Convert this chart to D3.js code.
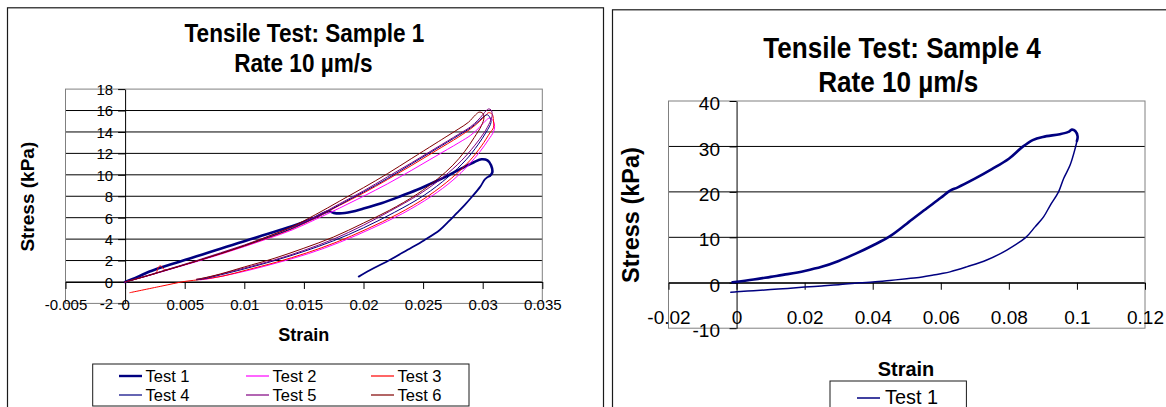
<!DOCTYPE html>
<html>
<head>
<meta charset="utf-8">
<script src="https://cdn.jsdelivr.net/npm/d3@7"></script>
<style>
  body { margin: 0; background: #fff; }
  svg { display: block; }
  text { font-family: "Liberation Sans", Arial, Helvetica, sans-serif; fill: #000; }
</style>
</head>
<body>
<svg id="chart" width="1166" height="407"></svg>
<script>
// ---------- Sample 1: six tests, [strain, stress kPa] ----------
const s1Test1Load = [[0,0],[0.001,0.45],[0.002,0.95],[0.003,1.35],[0.004,1.7],[0.005,2.05],[0.006,2.4],[0.007,2.75],[0.008,3.1],[0.009,3.45],[0.010,3.8],[0.011,4.15],[0.012,4.5],[0.013,4.85],[0.014,5.2],[0.015,5.6],[0.016,6.05],[0.0167,6.45],[0.0171,6.6],[0.0175,6.45],[0.018,6.4],[0.019,6.55],[0.020,6.85],[0.0215,7.35],[0.023,7.95],[0.0245,8.6],[0.026,9.35],[0.0272,10.0],[0.0284,10.7],[0.0293,11.2],[0.0299,11.45],[0.0304,11.35],[0.0307,10.9],[0.0308,10.2],[0.0306,9.9]];
const s1Test1Unload = [[0.0306,9.9],[0.0302,9.6],[0.0298,8.9],[0.0291,7.95],[0.0285,7.2],[0.0278,6.4],[0.0271,5.6],[0.0264,4.85],[0.0251,3.9],[0.0237,3.0],[0.0222,2.05],[0.0208,1.25],[0.0196,0.5]];
const s1Test2 = [[0,0],[0.002,0.6],[0.004,1.25],[0.006,1.9],[0.008,2.58],[0.01,3.3],[0.012,4.05],[0.014,4.85],[0.016,5.85],[0.018,6.9],[0.02,8.0],[0.022,9.15],[0.024,10.4],[0.026,11.7],[0.028,13.0],[0.029,13.7],[0.0297,14.4],[0.0302,15.0],[0.0306,15.3],[0.0309,15.0],[0.031,14.5],[0.0309,14.0],[0.0305,13.3],[0.0298,12.2],[0.0288,10.9],[0.0275,9.5],[0.0257,8.0],[0.0233,6.4],[0.0207,5.0],[0.018,3.7],[0.0154,2.65],[0.0128,1.8],[0.0104,1.1],[0.0084,0.6],[0.007,0.3],[0.0063,0.2]];
const s1Test3 = [[0,0],[0.001,0.3],[0.002,0.62],[0.0026,0.85],[0.0028,1.4],[0.003,1.5],[0.0033,1.15],[0.004,1.3],[0.006,1.95],[0.008,2.62],[0.01,3.35],[0.012,4.12],[0.014,4.95],[0.016,6.0],[0.018,7.15],[0.02,8.3],[0.022,9.55],[0.024,10.85],[0.026,12.2],[0.028,13.55],[0.029,14.3],[0.0297,14.95],[0.0302,15.5],[0.0305,15.8],[0.0308,15.65],[0.0309,15.1],[0.0309,14.4],[0.0306,13.9],[0.0299,12.7],[0.0289,11.3],[0.0274,9.7],[0.0254,8.0],[0.0229,6.35],[0.0203,4.95],[0.0177,3.7],[0.0152,2.7],[0.0127,1.85],[0.0102,1.12],[0.0082,0.55],[0.0065,0.25],[0.005,0.05],[0.003,-0.4],[0.0004,-1.0]];
const s1Test4 = [[0,0],[0.002,0.62],[0.004,1.28],[0.006,1.95],[0.008,2.65],[0.01,3.38],[0.012,4.17],[0.014,5.0],[0.016,6.05],[0.018,7.2],[0.02,8.4],[0.022,9.65],[0.024,11.0],[0.026,12.35],[0.028,13.7],[0.029,14.4],[0.0296,14.95],[0.0301,15.45],[0.0304,15.6],[0.0306,15.35],[0.0307,14.9],[0.0303,14.0],[0.0296,12.8],[0.0286,11.4],[0.0271,9.8],[0.0251,8.1],[0.0226,6.5],[0.02,5.05],[0.0175,3.85],[0.015,2.85],[0.0125,1.98],[0.01,1.22],[0.008,0.66],[0.0067,0.32],[0.006,0.2]];
const s1Test5 = [[0,0],[0.002,0.65],[0.004,1.32],[0.006,2.0],[0.008,2.72],[0.01,3.45],[0.012,4.25],[0.014,5.1],[0.016,6.1],[0.018,7.3],[0.02,8.5],[0.022,9.8],[0.024,11.1],[0.026,12.45],[0.028,13.8],[0.029,14.5],[0.0296,15.1],[0.03,15.6],[0.0303,16.0],[0.0305,16.15],[0.0307,16.05],[0.0308,15.6],[0.0306,14.9],[0.0301,13.9],[0.0293,12.7],[0.0282,11.3],[0.0267,9.8],[0.0247,8.2],[0.0222,6.6],[0.02,5.3],[0.0175,4.0],[0.015,2.95],[0.0125,2.05],[0.01,1.3],[0.008,0.72],[0.0068,0.4],[0.006,0.25]];
const s1Test6 = [[0,0],[0.002,0.62],[0.004,1.28],[0.006,1.95],[0.008,2.65],[0.01,3.4],[0.012,4.25],[0.014,5.15],[0.016,6.3],[0.018,7.55],[0.02,8.8],[0.022,10.1],[0.024,11.5],[0.026,12.9],[0.027,13.6],[0.028,14.3],[0.0288,14.9],[0.0294,15.6],[0.0297,15.85],[0.03,15.75],[0.0301,15.3],[0.0299,14.6],[0.0293,13.5],[0.0285,12.2],[0.0275,10.9],[0.0262,9.6],[0.0245,8.2],[0.0222,6.7],[0.02,5.5],[0.0175,4.2],[0.015,3.15],[0.0125,2.2],[0.01,1.4],[0.008,0.75],[0.0065,0.35],[0.006,0.25]];

// ---------- Sample 4: one test ----------
const s4Test1Load = [[-0.0012,0.1],[0.005,0.7],[0.01,1.3],[0.015,1.9],[0.02,2.6],[0.025,3.5],[0.03,4.8],[0.035,6.4],[0.04,8.2],[0.045,10.2],[0.05,13.0],[0.055,15.9],[0.06,18.7],[0.062,19.9],[0.063,20.4],[0.065,21.0],[0.07,22.9],[0.075,25.0],[0.08,27.3],[0.084,29.9],[0.087,31.4],[0.09,32.1],[0.095,32.7],[0.0975,33.2],[0.0985,33.7],[0.0995,33.4],[0.1002,32.2],[0.1,31.2]];
const s4Test1Unload = [[0.1,31.2],[0.0995,29.6],[0.098,25.9],[0.0961,22.96],[0.0946,20.0],[0.0922,17.1],[0.0902,14.5],[0.0877,12.3],[0.085,10.0],[0.0794,7.2],[0.0735,5.0],[0.0676,3.5],[0.0627,2.4],[0.06,2.0],[0.0578,1.7],[0.0529,1.1],[0.05,0.9],[0.045,0.5],[0.04,0.15],[0.036,0],[0.03,-0.45],[0.025,-0.7],[0.02,-0.95],[0.015,-1.25],[0.01,-1.5],[0.005,-1.75],[0,-2.0],[-0.0017,-2.1]];

// ---------- axis ticks and legend names ----------
const s1XTicks = [-0.005, 0, 0.005, 0.01, 0.015, 0.02, 0.025, 0.03, 0.035];
const s1YTicks = [-2, 0, 2, 4, 6, 8, 10, 12, 14, 16, 18];
const s4XTicks = [-0.02, 0, 0.02, 0.04, 0.06, 0.08, 0.1, 0.12];
const s4YTicks = [-10, 0, 10, 20, 30, 40];
const s1Names = ["Test 1", "Test 2", "Test 3", "Test 4", "Test 5", "Test 6"];
const s1Colors = ["#000080", "#FF00FF", "#FF0000", "#000080", "#800080", "#800000"];
const s4Names = ["Test 1"];

const svg = d3.select("#chart");
svg.append("rect").attr("width", 1166).attr("height", 407).attr("fill", "#fff");

function label(g, x, y, s, o) {
  let tr = `translate(${x},${y})`;
  if (o.rot) tr += ` rotate(${o.rot})`;
  if (o.sx && o.sx !== 1) tr += ` scale(${o.sx},1)`;
  return g.append("text")
    .attr("transform", tr)
    .attr("text-anchor", o.anchor || "middle")
    .attr("font-size", o.size)
    .attr("font-weight", o.bold ? "bold" : "normal")
    .text(s);
}

function panel(cfg) {
  const g = svg.append("g");
  const x = d3.scaleLinear().domain(cfg.xDomain).range(cfg.xRange);
  const y = d3.scaleLinear().domain(cfg.yDomain).range(cfg.yRange);
  const [x0, x1] = cfg.xRange, [yb, yt] = cfg.yRange;

  // outer frame
  g.append("rect").attr("x", cfg.frame[0]).attr("y", cfg.frame[1])
    .attr("width", cfg.frame[2]).attr("height", cfg.frame[3])
    .attr("fill", "#fff").attr("stroke", "#1a1a1a").attr("stroke-width", 1.2);

  // gridlines
  g.append("g").selectAll("line")
    .data(cfg.yTicks.filter(v => v !== cfg.yDomain[0] && v !== cfg.yDomain[1]))
    .join("line")
    .attr("x1", x0).attr("x2", x1)
    .attr("y1", d => y(d)).attr("y2", d => y(d))
    .attr("stroke", "#000").attr("stroke-width", 1);

  // plot area border
  g.append("rect").attr("x", x0).attr("y", yt).attr("width", x1 - x0).attr("height", yb - yt)
    .attr("fill", "none").attr("stroke", "#808080").attr("stroke-width", 1);

  // x axis along stress = 0
  const xa = g.append("g").attr("transform", `translate(0,${y(0)})`)
    .call(d3.axisBottom(x).tickValues(cfg.xTicks).tickFormat(String).tickSize(7).tickSizeOuter(0));
  xa.select(".domain").attr("stroke", "#000");
  xa.selectAll(".tick line").attr("stroke", "#000");
  xa.selectAll(".tick text").attr("y", cfg.xLabelBase - y(0)).attr("dy", null)
    .attr("font-size", cfg.tickSize).attr("font-family", null).attr("fill", "#000");

  // y axis along strain = 0
  const ya = g.append("g").attr("transform", `translate(${x(0)},0)`)
    .call(d3.axisLeft(y).tickValues(cfg.yTicks).tickFormat(String).tickSize(7).tickPadding(cfg.yPad).tickSizeOuter(0));
  ya.select(".domain").attr("stroke", "#000");
  ya.selectAll(".tick line").attr("stroke", "#000");
  ya.selectAll(".tick text").attr("dy", cfg.yDy)
    .attr("font-size", cfg.tickSize).attr("font-family", null).attr("fill", "#000");

  // series
  const line = d3.line().x(d => x(d[0])).y(d => y(d[1])).curve(d3.curveCatmullRom.alpha(0.5));
  cfg.series.forEach(s => {
    g.append("path").attr("d", line(s.data)).attr("fill", "none")
      .attr("stroke", s.color).attr("stroke-width", s.width)
      .attr("stroke-linejoin", "round").attr("stroke-linecap", "round");
  });

  // titles
  cfg.title.forEach(t => label(g, t.x, t.y, t.text, { size: cfg.titleSize, bold: true, sx: cfg.titleSx }));
  label(g, cfg.yTitle.x, cfg.yTitle.y, "Stress (kPa)", { size: cfg.yTitle.size, bold: true, rot: -90 });
  label(g, cfg.xTitle.x, cfg.xTitle.y, "Strain", { size: cfg.xTitle.size, bold: true, sx: cfg.xTitle.sx });

  // legend
  const L = cfg.legend;
  g.append("rect").attr("x", L.box[0]).attr("y", L.box[1]).attr("width", L.box[2]).attr("height", L.box[3])
    .attr("fill", "#fff").attr("stroke", "#1a1a1a").attr("stroke-width", 1);
  L.items.forEach(it => {
    g.append("line").attr("x1", it.lx).attr("x2", it.lx + L.lineLen)
      .attr("y1", it.ly).attr("y2", it.ly)
      .attr("stroke", it.color).attr("stroke-width", it.width);
    label(g, it.lx + L.lineLen + L.gap, it.ly + L.baseOff, it.name, { size: L.size, anchor: "start", sx: L.sx });
  });
}

// ---------- left chart ----------
const s1Data = [s1Test2, s1Test3, s1Test4, s1Test5, s1Test6];
const s1Series = [
  { data: s1Test1Load, color: s1Colors[0], width: 2.6 },
  { data: s1Test1Unload, color: s1Colors[0], width: 1.8 }
].concat(s1Data.map((d, i) => ({ data: d, color: s1Colors[i + 1], width: 1 })));

const s1ColX = [119, 246, 371];
const s1RowY = [376, 395];
panel({
  xDomain: [-0.005, 0.035], xRange: [65.5, 542.3],
  yDomain: [-2, 18], yRange: [303.4, 89.1],
  xTicks: s1XTicks, yTicks: s1YTicks,
  tickSize: 15, xLabelBase: 310, yPad: 5, yDy: "0.36em",
  frame: [7.5, 7.8, 596, 430],
  title: [{ x: 304.4, y: 41.7, text: "Tensile Test: Sample 1" }, { x: 303.4, y: 71.7, text: "Rate 10 µm/s" }],
  titleSize: 25.5, titleSx: 0.885,
  yTitle: { x: 33.7, y: 196.7, size: 19 },
  xTitle: { x: 303.7, y: 340.5, size: 19, sx: 0.95 },
  series: s1Series,
  legend: {
    box: [92.7, 364, 376.3, 42], lineLen: 23, gap: 3.5, baseOff: 5.8, size: 16.5, sx: 1,
    items: s1Names.map((n, i) => ({
      name: n, color: s1Colors[i], width: i === 0 ? 2.4 : 1.2,
      lx: s1ColX[i % 3], ly: s1RowY[Math.floor(i / 3)]
    }))
  }
});

// ---------- right chart ----------
panel({
  xDomain: [-0.02, 0.12], xRange: [668.5, 1145],
  yDomain: [-10, 40], yRange: [328.2, 101],
  xTicks: s4XTicks, yTicks: s4YTicks,
  tickSize: 19, xLabelBase: 324, yPad: 9.6, yDy: "0.45em",
  frame: [612.5, 9.8, 600, 430],
  title: [{ x: 902, y: 58.3, text: "Tensile Test: Sample 4" }, { x: 898.2, y: 91.7, text: "Rate 10 µm/s" }],
  titleSize: 30, titleSx: 0.87,
  yTitle: { x: 638.5, y: 215, size: 23.5 },
  xTitle: { x: 906, y: 376, size: 21, sx: 0.95 },
  series: [
    { data: s4Test1Load, color: "#000080", width: 2.6 },
    { data: s4Test1Unload, color: "#000080", width: 1.5 }
  ],
  legend: {
    box: [830, 381, 136.4, 40], lineLen: 23, gap: 5, baseOff: 6.3, size: 20.5, sx: 0.97,
    items: s4Names.map(n => ({ name: n, color: "#000080", width: 1.5, lx: 857, ly: 398 }))
  }
});
</script>
</body>
</html>
